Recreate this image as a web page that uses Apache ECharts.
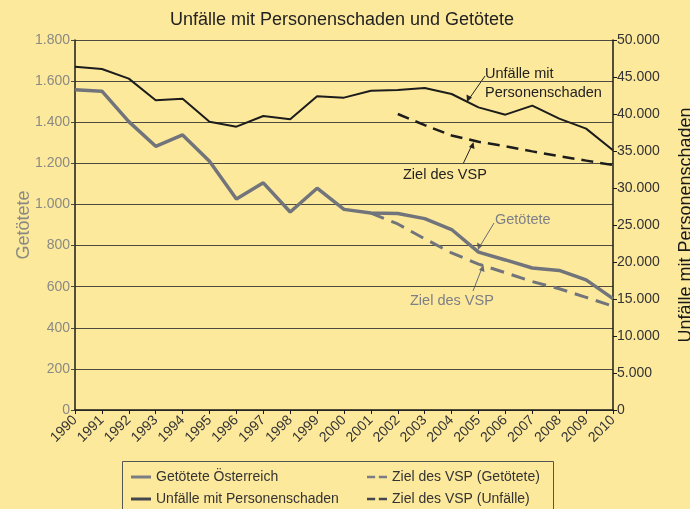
<!DOCTYPE html>
<html>
<head>
<meta charset="utf-8">
<script src="https://cdn.jsdelivr.net/npm/echarts@6/dist/echarts.min.js"></script>
<style>
html,body{margin:0;padding:0;background:#fde99c;}
#chart{width:690px;height:509px;}
</style>
</head>
<body>
<div id="chart"></div>
<script>
const years = ['1990','1991','1992','1993','1994','1995','1996','1997','1998','1999','2000','2001','2002','2003','2004','2005','2006','2007','2008','2009','2010'];
const getoetete = [1558,1551,1403,1283,1338,1210,1027,1105,963,1079,976,958,956,931,878,768,730,691,679,633,542];
const unfaelle = [46400,46080,44780,41850,42070,38960,38290,39730,39280,42390,42210,43150,43240,43510,42700,40900,39910,41130,39370,38020,35100];
const zielGetoetete = [null,null,null,null,null,null,null,null,null,null,null,958,905,833,764,710,668,625,590,548,505];
const zielUnfaelle = [null,null,null,null,null,null,null,null,null,null,null,null,40000,38500,37100,36250,35650,34950,34300,33700,33100];
const leftTicks = {min:0, max:1800, interval:200};
const rightTicks = {min:0, max:50000, interval:5000};

const FONT = '"Liberation Sans", Arial, sans-serif';
const GRAY = '#71747b';
const DARK = '#1c1c1c';
const fmt = v => String(v).replace(/\B(?=(\d{3})+(?!\d))/g, '.');
const dashIcon = 'path://M0,0L9,0L9,3L0,3Z M13,0L22,0L22,3L13,3Z';

const legendText = {fontFamily:FONT, fontSize:14, color:'#333'};
const chart = echarts.init(document.getElementById('chart'), null, {renderer:'canvas'});
chart.setOption({
  backgroundColor:'#fde99c',
  animation:false,
  textStyle:{fontFamily:FONT},
  title:{text:'Unfälle mit Personenschaden und Getötete', left:337, textAlign:'center', top:6,
    textStyle:{fontFamily:FONT, fontSize:18, fontWeight:'normal', color:'#222'}},
  grid:{left:75, right:77, top:40, bottom:99, containLabel:false, outerBoundsMode:'none'},
  legend:[
    {data:[
       {name:'Getötete Österreich', icon:'rect', itemStyle:{color:'#7b7d84', borderWidth:0}},
       {name:'Unfälle mit Personenschaden', icon:'rect', itemStyle:{color:'#45474c', borderWidth:0}}],
     orient:'vertical', left:131, top:470, height:60, padding:0, itemGap:8,
     itemWidth:20, itemHeight:3, textStyle:legendText},
    {data:[
       {name:'Ziel des VSP (Getötete)', icon:dashIcon, itemStyle:{color:'#7b7d84', borderWidth:0}},
       {name:'Ziel des VSP (Unfälle)', icon:dashIcon, itemStyle:{color:'#45474c', borderWidth:0}}],
     orient:'vertical', left:367, top:470, height:60, padding:0, itemGap:8,
     itemWidth:20, itemHeight:3, textStyle:legendText}
  ],
  xAxis:{type:'category', data:years, boundaryGap:false,
    axisLine:{lineStyle:{color:'#1a1a1a', width:1.5}},
    axisTick:{show:true, length:4, lineStyle:{color:'#1a1a1a'}},
    axisLabel:{rotate:45, margin:8, fontFamily:FONT, fontSize:14, color:'#333'},
    splitLine:{show:false}},
  yAxis:[
    {type:'value', position:'left', min:leftTicks.min, max:leftTicks.max, interval:leftTicks.interval,
     name:'Getötete', nameLocation:'middle', nameGap:42, nameRotate:90, nameMoveOverlap:false,
     nameTextStyle:{fontFamily:FONT, fontSize:18, color:'#8a8a84'},
     axisLine:{show:true, lineStyle:{color:'#1a1a1a', width:1.5}},
     axisTick:{show:true, length:4, lineStyle:{color:'#4a4a40'}},
     axisLabel:{margin:5, fontFamily:FONT, fontSize:14, color:'#8a8a84', formatter:fmt},
     splitLine:{show:true, lineStyle:{color:'#4e4b3e', width:1}}},
    {type:'value', position:'right', min:rightTicks.min, max:rightTicks.max, interval:rightTicks.interval,
     name:'Unfälle mit Personenschaden', nameLocation:'middle', nameGap:64, nameRotate:90, nameMoveOverlap:false,
     nameTextStyle:{fontFamily:FONT, fontSize:18, color:'#1a1a1a'},
     axisLine:{show:true, lineStyle:{color:'#1a1a1a', width:1.5}},
     axisTick:{show:true, length:4, lineStyle:{color:'#1a1a1a'}},
     axisLabel:{margin:4, fontFamily:FONT, fontSize:14, color:'#333', formatter:fmt},
     splitLine:{show:false}}
  ],
  series:[
    {name:'Ziel des VSP (Getötete)', type:'line', yAxisIndex:0, data:zielGetoetete, showSymbol:false, symbol:'none',
     lineStyle:{color:GRAY, width:3, type:[14,8]}, itemStyle:{color:'#7b7d84'}, z:2},
    {name:'Getötete Österreich', type:'line', yAxisIndex:0, data:getoetete, showSymbol:false, symbol:'none',
     lineStyle:{color:GRAY, width:3.5}, itemStyle:{color:'#7b7d84'}, z:3},
    {name:'Ziel des VSP (Unfälle)', type:'line', yAxisIndex:1, data:zielUnfaelle, showSymbol:false, symbol:'none',
     lineStyle:{color:DARK, width:2.5, type:[12,7]}, itemStyle:{color:'#45474c'}, z:4},
    {name:'Unfälle mit Personenschaden', type:'line', yAxisIndex:1, data:unfaelle, showSymbol:false, symbol:'none',
     lineStyle:{color:DARK, width:2}, itemStyle:{color:'#45474c'}, z:5}
  ],
  graphic:[
    {type:'rect', shape:{x:122.5, y:461.5, width:431, height:60}, style:{fill:null, stroke:'#555', lineWidth:1}, z:1},
    {type:'text', x:485, y:64, style:{text:'Unfälle mit\nPersonenschaden', font:'14.5px '+FONT, fill:'#222', lineHeight:19}},
    {type:'line', shape:{x1:485, y1:76, x2:469, y2:99}, style:{stroke:'#222', lineWidth:1}},
    {type:'polygon', shape:{points:[[467,102],[466.5,94.5],[472,97.5]]}, style:{fill:'#222'}},
    {type:'text', x:403, y:167, style:{text:'Ziel des VSP', font:'14.5px '+FONT, fill:'#222'}},
    {type:'line', shape:{x1:463, y1:164, x2:472, y2:145}, style:{stroke:'#222', lineWidth:1}},
    {type:'polygon', shape:{points:[[473.5,142],[474.5,149],[469,147]]}, style:{fill:'#222'}},
    {type:'text', x:495, y:212, style:{text:'Getötete', font:'14.5px '+FONT, fill:'#7d7f86'}},
    {type:'line', shape:{x1:494, y1:223, x2:479.5, y2:247}, style:{stroke:'#6a6c72', lineWidth:1}},
    {type:'polygon', shape:{points:[[478,250],[477,242.5],[482.5,245.5]]}, style:{fill:'#6a6c72'}},
    {type:'text', x:410, y:293, style:{text:'Ziel des VSP', font:'14.5px '+FONT, fill:'#7d7f86'}},
    {type:'line', shape:{x1:473, y1:291, x2:482, y2:268}, style:{stroke:'#6a6c72', lineWidth:1}},
    {type:'polygon', shape:{points:[[483.5,265],[484.5,272],[479,270]]}, style:{fill:'#6a6c72'}}
  ]
});
</script>
</body>
</html>
